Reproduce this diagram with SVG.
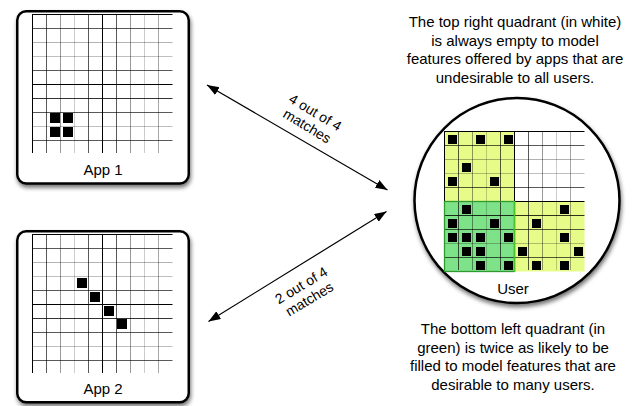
<svg xmlns="http://www.w3.org/2000/svg" xmlns:xlink="http://www.w3.org/1999/xlink" width="632" height="406" viewBox="0 0 632 406">
<defs>
<style>
text{font-family:"Liberation Sans",Arial,Helvetica,sans-serif;fill:#000}
.lbl{font-size:15px;text-anchor:middle}
.alb{font-size:14px;text-anchor:middle}
.frame{fill:#fff;stroke:#000;stroke-width:2.5}
.gl{stroke:#000;stroke-width:1;fill:none}
.sq{fill:#000}
.conn{stroke:#000;stroke-width:1.2;fill:none;marker-start:url(#ah);marker-end:url(#ah)}
</style>
<filter id="sh" x="-10%" y="-10%" width="125%" height="130%">
<feDropShadow dx="1" dy="3" stdDeviation="2.2" flood-color="#000" flood-opacity="0.55"/>
</filter>
<marker id="ah" markerWidth="13" markerHeight="10" refX="12" refY="4.5" orient="auto-start-reverse" markerUnits="userSpaceOnUse">
<path d="M0,0 L12,4.5 L0,9 z" fill="#000"/>
</marker>
<g id="vlines">
<line class="gl" x1="32.5" y1="0" x2="32.5" y2="139" stroke-opacity="1" stroke-width="1.6"/>
<line class="gl" x1="46.5" y1="0" x2="46.5" y2="139" stroke-opacity="0.65"/>
<line class="gl" x1="60.5" y1="0" x2="60.5" y2="139" stroke-opacity="0.4"/>
<line class="gl" x1="74.5" y1="0" x2="74.5" y2="139" stroke-opacity="0.2"/>
<line class="gl" x1="88.5" y1="0" x2="88.5" y2="139" stroke-opacity="0.65"/>
<line class="gl" x1="102.5" y1="0" x2="102.5" y2="139" stroke-opacity="1" stroke-width="1.4"/>
<line class="gl" x1="116.5" y1="0" x2="116.5" y2="139" stroke-opacity="0.65"/>
<line class="gl" x1="130.5" y1="0" x2="130.5" y2="139" stroke-opacity="0.4"/>
<line class="gl" x1="144.5" y1="0" x2="144.5" y2="139" stroke-opacity="0.2"/>
<line class="gl" x1="158.5" y1="0" x2="158.5" y2="139" stroke-opacity="0.35"/>
</g>
<g id="hlines">
<line class="gl" x1="32" y1="0.5" x2="172.5" y2="0.5" stroke-opacity="1" stroke-width="1.6"/>
<line class="gl" x1="32" y1="14.5" x2="172.5" y2="14.5" stroke-opacity="0.65"/>
<line class="gl" x1="32" y1="28.5" x2="172.5" y2="28.5" stroke-opacity="0.3"/>
<line class="gl" x1="32" y1="42.5" x2="172.5" y2="42.5" stroke-opacity="0.25"/>
<line class="gl" x1="32" y1="56.5" x2="172.5" y2="56.5" stroke-opacity="0.65"/>
<line class="gl" x1="32" y1="70.5" x2="172.5" y2="70.5" stroke-opacity="1" stroke-width="1.4"/>
<line class="gl" x1="32" y1="84.5" x2="172.5" y2="84.5" stroke-opacity="0.8"/>
<line class="gl" x1="32" y1="98.5" x2="172.5" y2="98.5" stroke-opacity="0.65"/>
<line class="gl" x1="32" y1="112.5" x2="172.5" y2="112.5" stroke-opacity="0.25"/>
<line class="gl" x1="32" y1="126.5" x2="172.5" y2="126.5" stroke-opacity="0.65"/>
</g>
<g id="grid">
<use xlink:href="#vlines"/>
<use xlink:href="#hlines"/>
</g>
</defs>

<g id="app1">
<rect class="frame" x="17.25" y="11.25" width="171.5" height="172.25" rx="9" filter="url(#sh)"/>
<use xlink:href="#grid" transform="translate(0,14)"/>
<rect class="sq" x="50" y="113" width="10" height="10"/>
<rect class="sq" x="63" y="113" width="10" height="10"/>
<rect class="sq" x="50" y="127" width="10" height="10"/>
<rect class="sq" x="63" y="127" width="10" height="10"/>
<text class="lbl" x="103" y="175">App 1</text>
</g>

<g id="app2">
<rect class="frame" x="17.25" y="231.25" width="171.5" height="171" rx="9" filter="url(#sh)"/>
<use xlink:href="#grid" transform="translate(0,234)"/>
<rect class="sq" x="77" y="278" width="10" height="10"/>
<rect class="sq" x="90" y="292" width="10" height="10"/>
<rect class="sq" x="104" y="306" width="10" height="10"/>
<rect class="sq" x="117" y="319" width="10" height="10"/>
<text class="lbl" x="103" y="394">App 2</text>
</g>

<g id="user">
<circle cx="517" cy="200.5" r="102.5" fill="#fff" stroke="#000" stroke-width="2.5" filter="url(#sh)"/>
<rect x="444.5" y="131.5" width="70" height="70" fill="#e6fb88"/>
<rect x="514.5" y="201.5" width="70" height="70" fill="#e6fb88"/>
<rect x="444.5" y="201.5" width="70" height="70" fill="#7ee288"/>
<use xlink:href="#grid" transform="translate(412,131)"/>
<rect x="444.5" y="201.5" width="70" height="70" fill="none" stroke="#2f9a2f" stroke-width="1.3"/>
<line x1="514.5" y1="201" x2="514.5" y2="272" stroke="#4cc22a" stroke-width="1.5"/>
<g class="sq">
<rect x="448" y="135" width="9" height="9"/>
<rect x="476" y="135" width="9" height="9"/>
<rect x="504" y="135" width="9" height="9"/>
<rect x="462" y="163" width="9" height="9"/>
<rect x="448" y="177" width="9" height="9"/>
<rect x="490" y="177" width="9" height="9"/>
<rect x="462" y="205" width="9" height="9"/>
<rect x="560" y="205" width="9" height="9"/>
<rect x="448" y="219" width="9" height="9"/>
<rect x="490" y="219" width="9" height="9"/>
<rect x="532" y="219" width="9" height="9"/>
<rect x="448" y="233" width="9" height="9"/>
<rect x="462" y="233" width="9" height="9"/>
<rect x="476" y="233" width="9" height="9"/>
<rect x="504" y="233" width="9" height="9"/>
<rect x="560" y="233" width="9" height="9"/>
<rect x="462" y="247" width="9" height="9"/>
<rect x="476" y="247" width="9" height="9"/>
<rect x="518" y="247" width="9" height="9"/>
<rect x="574" y="247" width="9" height="9"/>
<rect x="476" y="261" width="9" height="9"/>
<rect x="504" y="261" width="9" height="9"/>
<rect x="532" y="261" width="9" height="9"/>
<rect x="560" y="261" width="9" height="9"/>
</g>
<text class="lbl" x="513" y="294">User</text>
</g>

<g id="connectors">
<line class="conn" x1="207" y1="85" x2="387.5" y2="190"/>
<line class="conn" x1="208.5" y1="321.5" x2="386.5" y2="211.5"/>
<g transform="translate(311,119.5) rotate(31)">
<text class="alb" x="0" y="-3.5">4 out of 4</text>
<text class="alb" x="0" y="12.5">matches</text>
</g>
<g transform="translate(305.5,292.5) rotate(-31)">
<text class="alb" x="0" y="-3.5">2 out of 4</text>
<text class="alb" x="0" y="12.5">matches</text>
</g>
</g>

<g id="note-top">
<text class="lbl" x="515" y="27">The top right quadrant (in white)</text>
<text class="lbl" x="515" y="45.7">is always empty to model</text>
<text class="lbl" x="515" y="64.4">features offered by apps that are</text>
<text class="lbl" x="515" y="83.1">undesirable to all users.</text>
</g>

<g id="note-bottom">
<text class="lbl" x="513" y="334">The bottom left quadrant (in</text>
<text class="lbl" x="513" y="352.7">green) is twice as likely to be</text>
<text class="lbl" x="513" y="371.4">filled to model features that are</text>
<text class="lbl" x="513" y="390.1">desirable to many users.</text>
</g>
</svg>
